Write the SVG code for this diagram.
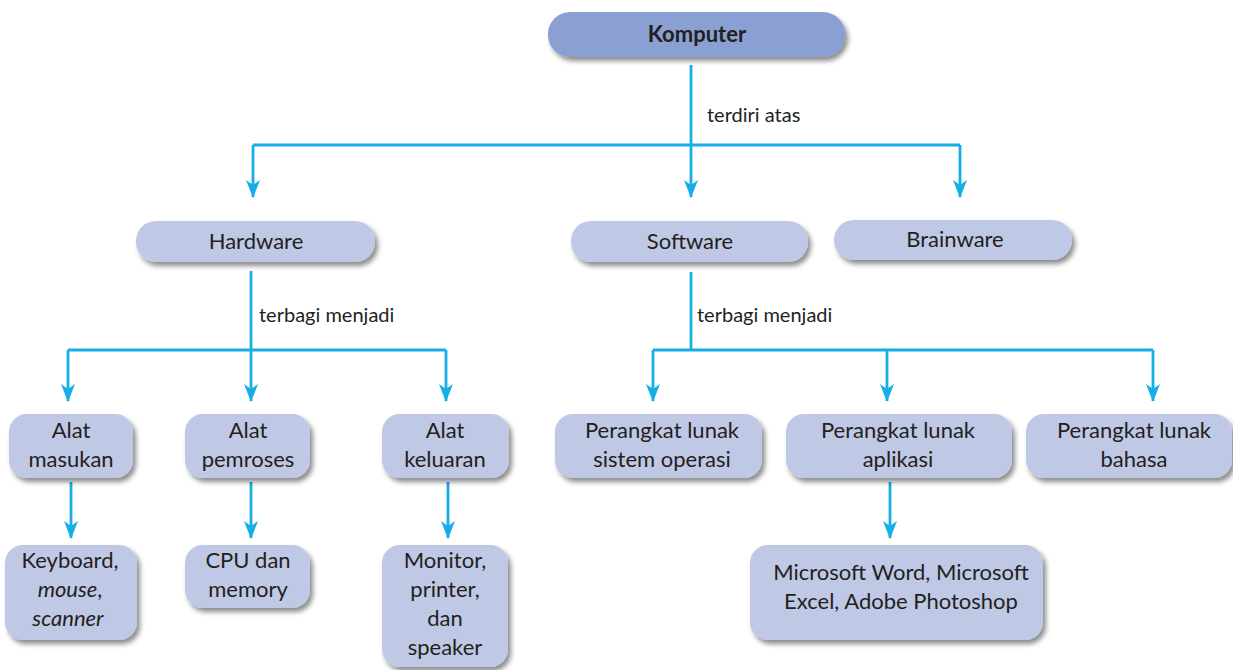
<svg xmlns="http://www.w3.org/2000/svg" width="1233" height="670" viewBox="0 0 1233 670">
<defs>
<filter id="sh" x="-10%" y="-20%" width="125%" height="150%">
<feDropShadow dx="3" dy="4" stdDeviation="2.5" flood-color="#000" flood-opacity="0.45"/>
</filter>
<marker id="ah" markerWidth="18" markerHeight="14" refX="17" refY="7" orient="auto" markerUnits="userSpaceOnUse" viewBox="0 0 18 14">
<path d="M0,0 L18,7 L0,14 L5,7 Z" fill="#16aee6"/>
</marker>
</defs>
<style>
.box{fill:#bfc8e4;filter:url(#sh)}
.top{fill:#8a9fd2;filter:url(#sh)}
.t{font-family:Lato,"Liberation Sans",sans-serif;font-size:22px;fill:#231f20;text-anchor:middle}
.b{font-weight:bold}
.lbl{font-family:Lato,"Liberation Sans",sans-serif;font-size:20px;fill:#231f20}
.c{stroke:#16aee6;stroke-width:2.8;fill:none}
.a{marker-end:url(#ah)}
</style>
<g id="connectors">
<path class="c" d="M691,65 V145"/>
<path class="c" d="M253,145 H960"/>
<path class="c a" d="M253,145 V197"/>
<path class="c a" d="M691,145 V197"/>
<path class="c a" d="M960,145 V197"/>
<path class="c" d="M251,271 V350"/>
<path class="c" d="M68,350 H446"/>
<path class="c a" d="M68,350 V401"/>
<path class="c a" d="M251,350 V401"/>
<path class="c a" d="M446,350 V401"/>
<path class="c" d="M691,272 V350"/>
<path class="c" d="M653,350 H1153"/>
<path class="c a" d="M653,350 V401"/>
<path class="c a" d="M887,350 V401"/>
<path class="c a" d="M1153,350 V401"/>
<path class="c a" d="M71,482 V538"/>
<path class="c a" d="M251,482 V538"/>
<path class="c a" d="M448,482 V538"/>
<path class="c a" d="M890,482 V538"/>
<text class="lbl" x="707" y="122">terdiri atas</text>
<text class="lbl" x="259" y="322">terbagi menjadi</text>
<text class="lbl" x="697" y="322">terbagi menjadi</text>
</g>
<g id="komputer"><rect class="top" x="548" y="12" width="297" height="45" rx="22"/><text class="t b" x="697" y="42">Komputer</text></g>
<g id="hardware"><rect class="box" x="136" y="221" width="239" height="41" rx="20"/><text class="t" x="256" y="249">Hardware</text></g>
<g id="software"><rect class="box" x="571" y="221" width="237" height="41" rx="20"/><text class="t" x="690" y="249">Software</text></g>
<g id="brainware"><rect class="box" x="834" y="220" width="238" height="40" rx="20"/><text class="t" x="955" y="247">Brainware</text></g>
<g id="alat-masukan"><rect class="box" x="9" y="414" width="124" height="64" rx="18"/><text class="t" x="71" y="438">Alat</text><text class="t" x="71" y="467">masukan</text></g>
<g id="alat-pemroses"><rect class="box" x="185" y="414" width="125" height="64" rx="18"/><text class="t" x="248" y="438">Alat</text><text class="t" x="248" y="467">pemroses</text></g>
<g id="alat-keluaran"><rect class="box" x="382" y="414" width="127" height="64" rx="18"/><text class="t" x="445" y="438">Alat</text><text class="t" x="445" y="467">keluaran</text></g>
<g id="keyboard"><rect class="box" x="5" y="545" width="132" height="95" rx="18"/><text class="t" x="70" y="568">Keyboard,</text><text class="t" x="70" y="597"><tspan font-style="italic">mouse</tspan>,</text><text class="t" x="68" y="626" font-style="italic">scanner</text></g>
<g id="cpu"><rect class="box" x="185" y="545" width="125" height="63" rx="18"/><text class="t" x="248" y="568">CPU dan</text><text class="t" x="248" y="597">memory</text></g>
<g id="monitor"><rect class="box" x="382" y="545" width="126" height="122" rx="18"/><text class="t" x="445" y="568">Monitor,</text><text class="t" x="445" y="597">printer,</text><text class="t" x="445" y="626">dan</text><text class="t" x="445" y="655">speaker</text></g>
<g id="pl-sistem"><rect class="box" x="555" y="414" width="207" height="64" rx="18"/><text class="t" x="662" y="438">Perangkat lunak</text><text class="t" x="662" y="467">sistem operasi</text></g>
<g id="pl-aplikasi"><rect class="box" x="786" y="414" width="226" height="64" rx="18"/><text class="t" x="898" y="438">Perangkat lunak</text><text class="t" x="898" y="467">aplikasi</text></g>
<g id="pl-bahasa"><rect class="box" x="1026" y="414" width="206" height="64" rx="18"/><text class="t" x="1134" y="438">Perangkat lunak</text><text class="t" x="1134" y="467">bahasa</text></g>
<g id="microsoft"><rect class="box" x="750" y="545" width="293" height="95" rx="18"/><text class="t" x="901" y="580">Microsoft Word, Microsoft</text><text class="t" x="901" y="609">Excel, Adobe Photoshop</text></g>
</svg>
